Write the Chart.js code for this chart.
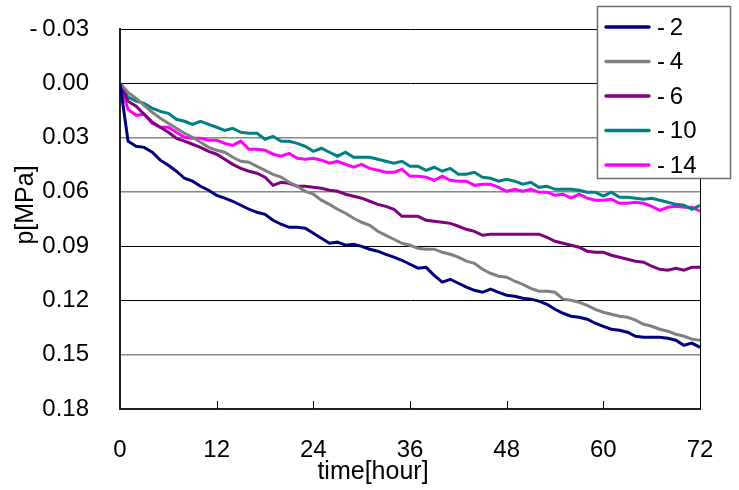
<!DOCTYPE html>
<html><head><meta charset="utf-8">
<script src="https://cdn.jsdelivr.net/npm/chart.js@4.4.0/dist/chart.umd.min.js"></script>
<style>html,body{margin:0;padding:0;background:#fff;}#wrap{width:739px;height:490px;}</style>
</head><body><div id="wrap"><canvas id="c" width="739" height="490"></canvas></div>
<script>
const hours = [0,1,2,3,4,5,6,7,8,9,10,11,12,13,14,15,16,17,18,19,20,21,22,23,24,25,26,27,28,29,30,31,32,33,34,35,36,37,38,39,40,41,42,43,44,45,46,47,48,49,50,51,52,53,54,55,56,57,58,59,60,61,62,63,64,65,66,67,68,69,70,71,72];
const seriesLabels = ['-\u20092','-\u20094','-\u20096','-\u200910','-\u200914'];
const depth2 = [0,0.0320,0.0348,0.0354,0.0381,0.0425,0.0453,0.0486,0.0525,0.0541,0.0569,0.0591,0.0619,0.0635,0.0652,0.0674,0.0696,0.0713,0.0724,0.0757,0.0779,0.0796,0.0796,0.0801,0.0829,0.0856,0.0884,0.0878,0.0895,0.0890,0.0901,0.0917,0.0928,0.0945,0.0961,0.0978,0.1000,0.1022,0.1017,0.1061,0.1099,0.1083,0.1105,0.1127,0.1144,0.1155,0.1138,0.1155,0.1171,0.1177,0.1188,0.1193,0.1204,0.1221,0.1249,0.1271,0.1287,0.1293,0.1304,0.1326,0.1343,0.1359,0.1365,0.1376,0.1398,0.1403,0.1403,0.1403,0.1409,0.1420,0.1448,0.1436,0.1459];
const depth4 = [0,0.0050,0.0083,0.0122,0.0160,0.0193,0.0221,0.0249,0.0276,0.0298,0.0326,0.0354,0.0370,0.0381,0.0409,0.0431,0.0436,0.0459,0.0481,0.0503,0.0519,0.0547,0.0569,0.0597,0.0613,0.0646,0.0669,0.0696,0.0718,0.0746,0.0768,0.0785,0.0818,0.0840,0.0862,0.0884,0.0895,0.0912,0.0917,0.0917,0.0934,0.0945,0.0961,0.0983,0.0995,0.1028,0.1050,0.1066,0.1072,0.1094,0.1111,0.1133,0.1149,0.1149,0.1155,0.1193,0.1199,0.1210,0.1227,0.1249,0.1265,0.1276,0.1287,0.1293,0.1309,0.1332,0.1343,0.1359,0.1370,0.1387,0.1398,0.1414,0.1420];
const depth6 = [0,0.0099,0.0127,0.0171,0.0215,0.0243,0.0271,0.0304,0.0320,0.0337,0.0354,0.0376,0.0392,0.0420,0.0448,0.0470,0.0486,0.0497,0.0519,0.0564,0.0547,0.0553,0.0569,0.0569,0.0575,0.0580,0.0591,0.0597,0.0613,0.0624,0.0635,0.0652,0.0669,0.0680,0.0696,0.0735,0.0735,0.0735,0.0757,0.0762,0.0768,0.0774,0.0790,0.0807,0.0818,0.0840,0.0834,0.0834,0.0834,0.0834,0.0834,0.0834,0.0834,0.0851,0.0873,0.0884,0.0895,0.0906,0.0928,0.0934,0.0934,0.0950,0.0961,0.0972,0.0983,0.0989,0.1011,0.1028,0.1033,0.1022,0.1033,0.1017,0.1017];
const depth10 = [0,0.0077,0.0099,0.0111,0.0138,0.0155,0.0166,0.0199,0.0210,0.0227,0.0210,0.0227,0.0243,0.0260,0.0249,0.0271,0.0276,0.0276,0.0309,0.0293,0.0320,0.0320,0.0332,0.0348,0.0376,0.0359,0.0381,0.0403,0.0381,0.0409,0.0409,0.0409,0.0420,0.0431,0.0442,0.0431,0.0459,0.0459,0.0481,0.0464,0.0486,0.0470,0.0503,0.0503,0.0492,0.0519,0.0525,0.0541,0.0530,0.0541,0.0558,0.0547,0.0575,0.0569,0.0586,0.0586,0.0586,0.0591,0.0602,0.0602,0.0624,0.0602,0.0630,0.0630,0.0635,0.0641,0.0635,0.0646,0.0657,0.0669,0.0674,0.0696,0.0674];
const depth14 = [0,0.0144,0.0177,0.0171,0.0221,0.0243,0.0243,0.0271,0.0298,0.0304,0.0304,0.0315,0.0315,0.0332,0.0343,0.0320,0.0365,0.0365,0.0370,0.0392,0.0403,0.0387,0.0414,0.0420,0.0414,0.0425,0.0442,0.0431,0.0448,0.0464,0.0448,0.0470,0.0481,0.0492,0.0492,0.0475,0.0514,0.0514,0.0519,0.0536,0.0514,0.0536,0.0541,0.0541,0.0564,0.0558,0.0558,0.0575,0.0597,0.0586,0.0597,0.0586,0.0602,0.0602,0.0619,0.0613,0.0635,0.0613,0.0635,0.0646,0.0646,0.0641,0.0663,0.0663,0.0657,0.0663,0.0680,0.0702,0.0685,0.0680,0.0685,0.0685,0.0707];
const xTickValues = [0,12,24,36,48,60,72];
const yTickValues = [-0.03,0,0.03,0.06,0.09,0.12,0.15,0.18];
const xTitle = 'time[hour]';
const yTitle = 'p[MPa]';

const FONT = '"Liberation Sans", Arial, sans-serif';
const colors = ['#000080','#808080','#800080','#008080','#FF00FF'];
const gridColors = ['#000','#000','#888','#888','#000','#000','#888','#000'];
const gridWidths = [1,1,1.5,1.5,1,1,1.5,1];
const allSeries = [depth2, depth4, depth6, depth10, depth14];

const datasets = allSeries.map((s, k) => ({
  label: seriesLabels[k],
  data: hours.map((h, i) => ({x: h, y: s[i]})),
  borderColor: colors[k],
  backgroundColor: colors[k],
  borderWidth: 3,
  pointRadius: 0,
  tension: 0,
  fill: false
}));

const decor = {
  id: 'decor',
  afterDraw(chart) {
    const ctx = chart.ctx, a = chart.chartArea, xs = chart.scales.x;
    ctx.save();
    ctx.strokeStyle = '#000'; ctx.lineWidth = 1;
    ctx.beginPath(); ctx.moveTo(Math.round(a.right) + 0.5, a.top); ctx.lineTo(Math.round(a.right) + 0.5, a.bottom); ctx.stroke();
    xTickValues.slice(1, -1).forEach(v => {
      const px = Math.round(xs.getPixelForValue(v)) + 0.5;
      ctx.beginPath(); ctx.moveTo(px, a.bottom); ctx.lineTo(px, a.bottom - 8); ctx.stroke();
    });
    ctx.fillStyle = '#000';
    ctx.font = '25px ' + FONT;
    ctx.textAlign = 'center'; ctx.textBaseline = 'alphabetic';
    ctx.fillText(xTitle, 373, 479);
    ctx.save();
    ctx.translate(33, 205); ctx.rotate(-Math.PI / 2);
    ctx.fillText(yTitle, 0, 0);
    ctx.restore();
    ctx.fillStyle = '#fff'; ctx.fillRect(597, 6, 134, 173);
    ctx.strokeStyle = '#6e6e6e'; ctx.lineWidth = 1.5; ctx.strokeRect(597.5, 6.5, 133, 172);
    chart.data.datasets.forEach((ds, i) => {
      const y = 27 + i * 34.5;
      ctx.strokeStyle = ds.borderColor; ctx.lineWidth = 3.5; ctx.lineCap = 'round';
      ctx.beginPath(); ctx.moveTo(606, y); ctx.lineTo(649, y); ctx.stroke();
      ctx.fillStyle = '#000'; ctx.font = '24px ' + FONT;
      ctx.textAlign = 'left'; ctx.textBaseline = 'middle';
      ctx.fillText(ds.label, 657, y + 1);
    });
    ctx.restore();
  }
};

new Chart(document.getElementById('c'), {
  type: 'line',
  data: { datasets },
  plugins: [decor],
  options: {
    responsive: false,
    animation: false,
    devicePixelRatio: 1,
    layout: { padding: { left: 0, top: 29, right: 39, bottom: 0 } },
    plugins: { legend: { display: false }, tooltip: { enabled: false } },
    scales: {
      x: {
        type: 'linear', min: 0, max: 72,
        afterFit: s => { s.height = 81; s.paddingLeft = 0; s.paddingRight = 0; },
        afterBuildTicks: s => { s.ticks = xTickValues.map(v => ({ value: v })); },
        ticks: { color: '#000', font: { family: FONT, size: 24 }, padding: 27, maxRotation: 0, autoSkip: false },
        grid: { drawOnChartArea: false, drawTicks: false },
        border: { display: true, color: '#222', width: 2 }
      },
      y: {
        type: 'linear', reverse: true, min: -0.03, max: 0.18,
        afterFit: s => { s.width = 120; s.paddingTop = 0; s.paddingBottom = 0; },
        afterBuildTicks: s => { s.ticks = yTickValues.map(v => ({ value: v })); },
        ticks: {
          color: '#000', font: { family: FONT, size: 24 }, padding: 31, autoSkip: false,
          callback: v => (v < -1e-9 ? '-\u2009' + Math.abs(v).toFixed(2) : Math.abs(v).toFixed(2))
        },
        grid: {
          drawTicks: false,
          color: c => gridColors[c.index] || '#000',
          lineWidth: c => gridWidths[c.index] || 1
        },
        border: { display: true, color: '#222', width: 2 }
      }
    }
  }
});
</script></body></html>
